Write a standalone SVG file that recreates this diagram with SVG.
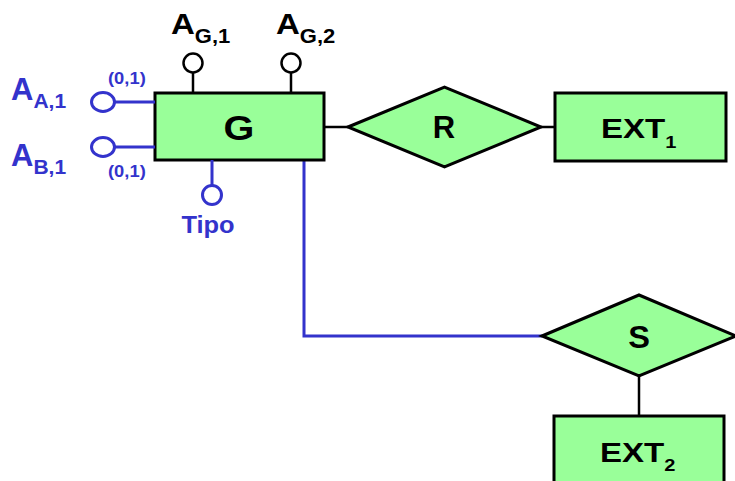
<svg xmlns="http://www.w3.org/2000/svg" width="735" height="481" viewBox="0 0 735 481">
<style>
.ent{fill:#99FF99;stroke:#000;stroke-width:3}
.rel{fill:#99FF99;stroke:#000;stroke-width:3;stroke-linejoin:miter}
.t{font-family:"Liberation Sans",Arial,sans-serif;font-weight:bold;fill:#000}
.b{fill:#3333CC}
.bl{stroke:#3333CC;stroke-width:3;fill:none}
.bk{stroke:#000;stroke-width:2.5;fill:none}
.ac{fill:#fff;stroke:#000;stroke-width:2.5}
.acb{fill:#fff;stroke:#3333CC;stroke-width:3}
</style>
<rect width="735" height="481" fill="#fff"/>
<g id="connectors">
<line class="bk" x1="324" y1="127" x2="348" y2="127"/>
<line class="bk" x1="541" y1="127" x2="555" y2="127"/>
<polyline class="bl" points="304,160 304,336 542,336"/>
<line class="bk" x1="639" y1="375" x2="639" y2="416"/>
</g>
<g id="G">
<rect class="ent" x="155" y="93" width="169" height="67"/>
<text class="t" font-size="36" text-anchor="middle" transform="translate(239 140) scale(1.1 1)">G</text>
</g>
<g id="AG1">
<line class="bk" x1="193" y1="73" x2="193" y2="93"/>
<circle class="ac" cx="193" cy="63" r="9.5"/>
<text class="t" font-size="30" transform="translate(171 34) scale(1.1 1)">A<tspan font-size="20" dy="8.5">G,1</tspan></text>
</g>
<g id="AG2">
<line class="bk" x1="291" y1="73" x2="291" y2="93"/>
<circle class="ac" cx="291" cy="63" r="9.5"/>
<text class="t" font-size="30" transform="translate(276 34) scale(1.1 1)">A<tspan font-size="20" dy="8.5">G,2</tspan></text>
</g>
<g id="AA1">
<line class="bl" x1="115" y1="102" x2="155" y2="102"/>
<ellipse class="acb" cx="103" cy="102" rx="11.5" ry="9.5"/>
<text class="t b" font-size="31" x="11" y="100">A<tspan font-size="21" dy="8">A,1</tspan></text>
<text class="t b" font-size="17" transform="translate(108 84) scale(1.08 1)">(0,1)</text>
</g>
<g id="AB1">
<line class="bl" x1="115" y1="147" x2="155" y2="147"/>
<ellipse class="acb" cx="103" cy="147" rx="11.5" ry="9.5"/>
<text class="t b" font-size="31" x="11" y="166">A<tspan font-size="21" dy="8">B,1</tspan></text>
<text class="t b" font-size="17" transform="translate(108 176.5) scale(1.08 1)">(0,1)</text>
</g>
<g id="Tipo">
<line class="bl" x1="212" y1="160" x2="212" y2="185"/>
<circle class="acb" cx="212" cy="195" r="9.5"/>
<text class="t b" font-size="24" text-anchor="middle" transform="translate(208 233) scale(1.06 1)">Tipo</text>
</g>
<g id="R">
<polygon class="rel" points="348,127 444.5,87 541,127 444.5,167"/>
<text class="t" font-size="31" text-anchor="middle" x="444" y="137.5">R</text>
</g>
<g id="EXT1">
<rect class="ent" x="555" y="93" width="171" height="68"/>
<text class="t" font-size="28" transform="translate(601 138) scale(1.18 1)">EXT<tspan font-size="17" dy="9.5">1</tspan></text>
</g>
<g id="S">
<polygon class="rel" points="542,336 639,295 736,336 639,376"/>
<text class="t" font-size="31" text-anchor="middle" transform="translate(639 348) scale(1.05 1)">S</text>
</g>
<g id="EXT2">
<rect class="ent" x="554" y="416" width="170" height="80"/>
<text class="t" font-size="28" transform="translate(600 462) scale(1.18 1)">EXT<tspan font-size="17" dy="9">2</tspan></text>
</g>
</svg>
